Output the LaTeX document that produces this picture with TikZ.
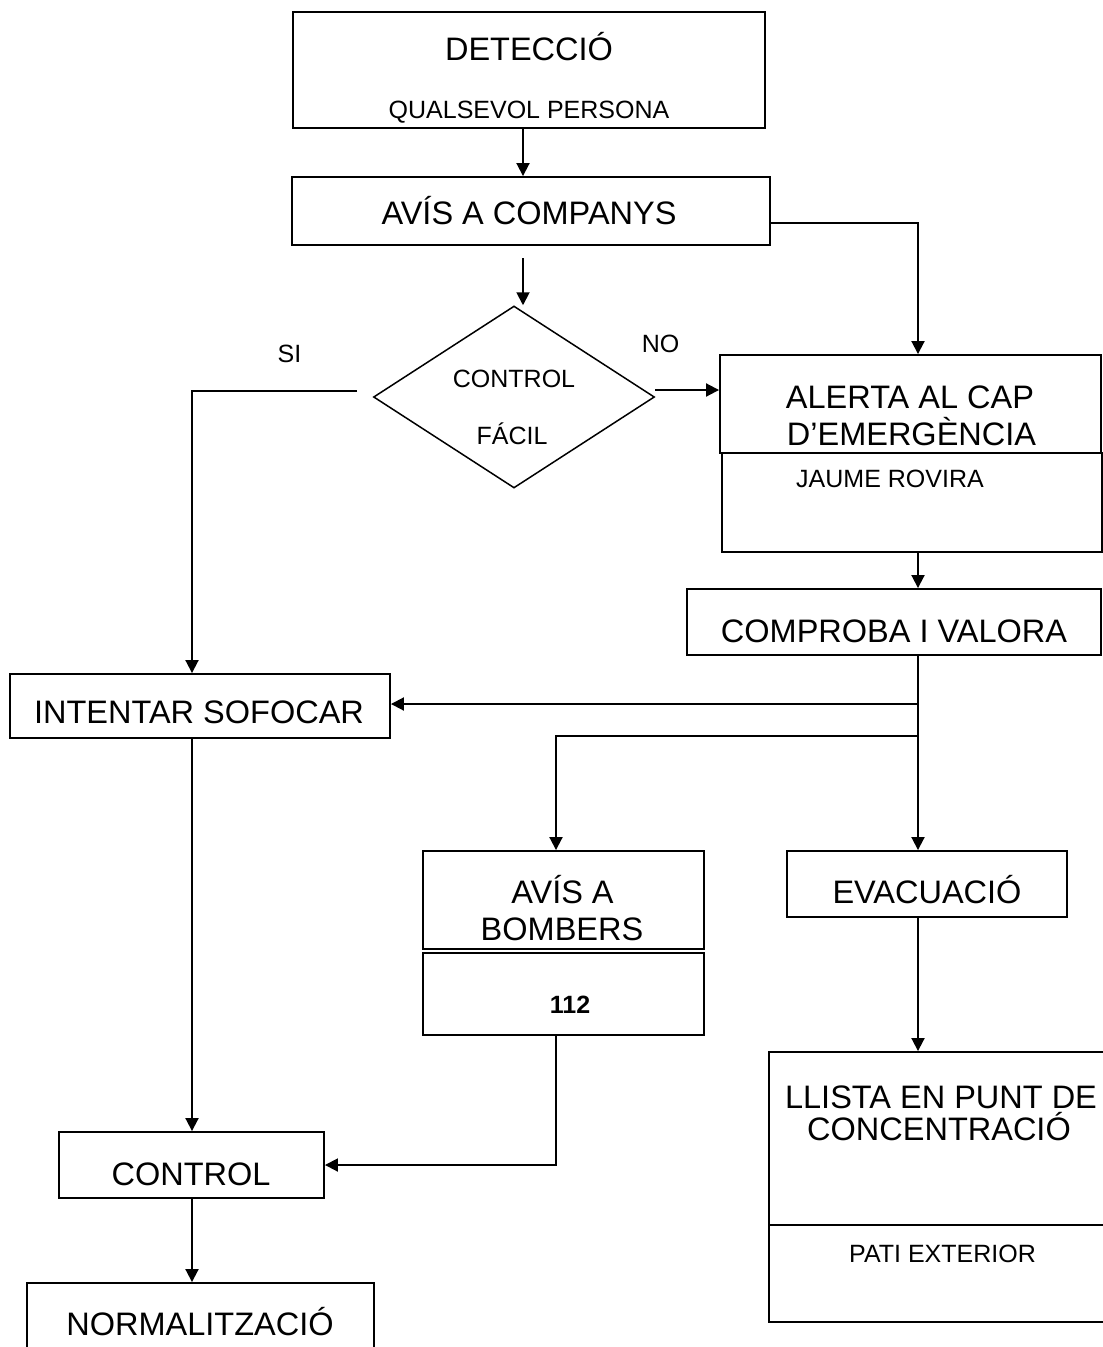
\documentclass[tikz,border=0pt]{standalone}
\usepackage{fontspec}
\setmainfont{Liberation Sans}
\usetikzlibrary{arrows.meta,shapes.geometric,calc}
\begin{document}
\begin{tikzpicture}[x=1pt,y=-1pt,
  box/.style={draw,line width=1.9pt,rectangle,inner sep=0pt},
  big/.style={anchor=base,inner sep=0pt,font=\fontsize{32.5}{36}\selectfont},
  small/.style={anchor=base,inner sep=0pt,font=\fontsize{25}{30}\selectfont},
  conn/.style={line width=1.9pt},
  arr/.style={conn,-{Triangle[length=13pt,width=13pt]}}]
\useasboundingbox (0,0) rectangle (1103,1347);
\clip (0,0) rectangle (1103,1347);
% column coordinates
\coordinate (cA) at (523,0);
\coordinate (cB) at (918,0);
\coordinate (cC) at (192,0);
\coordinate (cD) at (556,0);
% boxes
\node[box,minimum width=472pt,minimum height=116pt] (det) at (529,70) {};
\node[box,minimum width=478pt,minimum height=68pt] (avis) at (531,211) {};
\node[draw,line width=1.5pt,diamond,inner sep=0pt,minimum width=281pt,minimum height=182pt] (dia) at (514,397) {};
\node[box,minimum width=381pt,minimum height=98pt] (alerta) at (910.5,404) {};
\node[box,minimum width=380pt,minimum height=99pt] (jaume) at (912,502.5) {};
\node[box,minimum width=414pt,minimum height=66pt] (comp) at (894,622) {};
\node[box,minimum width=380pt,minimum height=64pt] (intentar) at (200,706) {};
\node[box,minimum width=281pt,minimum height=98pt] (bomb) at (563.5,900) {};
\node[box,minimum width=281pt,minimum height=82pt] (b112) at (563.5,994) {};
\node[box,minimum width=280pt,minimum height=66pt] (evac) at (927,884) {};
\node[box,minimum width=265pt,minimum height=66pt] (control) at (191.5,1165) {};
\node[box,minimum width=347pt,minimum height=140pt] (norm) at (200.5,1353) {};
\node[box,minimum width=360pt,minimum height=173pt] (llista) at (949,1138.5) {};
\node[box,minimum width=360pt,minimum height=97pt] (pati) at (949,1273.5) {};
% texts
\node[big] (tdet) at (529,60) {DETECCIÓ};
\node[small] (tqual) at (529,118) {QUALSEVOL PERSONA};
\node[big] (tavis) at (529,224) {AVÍS A COMPANYS};
\node[small] (tctrl) at (514,387) {CONTROL};
\node[small] (tfacil) at (512,444) {FÁCIL};
\node[small] (tsi) at (289.5,362) {SI};
\node[small] (tno) at (660.5,352) {NO};
\node[big] (tal1) at (910,408) {ALERTA AL CAP};
\node[big] (tal2) at (911.5,445) {D’EMERGÈNCIA};
\node[small] (tjau) at (890,487) {JAUME ROVIRA};
\node[big] (tcomp) at (894,642) {COMPROBA I VALORA};
\node[big] (tint) at (199,723) {INTENTAR SOFOCAR};
\node[big] (tb1) at (562.5,903) {AVÍS A};
\node[big] (tb2) at (562,940) {BOMBERS};
\node[small,font=\fontsize{25}{30}\selectfont\bfseries] (t112) at (570,1013) {112};
\node[big] (tevac) at (927,903) {EVACUACIÓ};
\node[big] (tcon) at (191,1185) {CONTROL};
\node[big] (tnorm) at (200,1335) {NORMALITZACIÓ};
\node[big] (tll1) at (941,1108) {LLISTA EN PUNT DE};
\node[big] (tll2) at (939,1140) {CONCENTRACIÓ};
\node[small] (tpati) at (942.5,1262) {PATI EXTERIOR};
% free coordinates
\coordinate (a3s) at (523,258);
\coordinate (siS) at (357,391);
\coordinate (noS) at (655,390);
\coordinate (j1) at (918,704);
\coordinate (j2) at (918,736);
\coordinate (avR) at (770,223);
% connectors
\draw[arr] (det.south -| cA) -- (avis.north -| cA);
\draw[arr] (avR) -| (alerta.north -| cB);
\draw[arr] (a3s) -- (dia.north -| cA);
\draw[arr] (siS) -| (intentar.north -| cC);
\draw[arr] (noS) -- (alerta.west |- noS);
\draw[arr] (jaume.south -| cB) -- (comp.north -| cB);
\draw[arr] (comp.south -| cB) -- (evac.north -| cB);
\draw[arr] (j1) -- (intentar.east |- j1);
\draw[arr] (j2) -| (bomb.north -| cD);
\draw[arr] (intentar.south -| cC) -- (control.north -| cC);
\draw[arr] (b112.south -| cD) |- (control.east);
\draw[arr] (control.south -| cC) -- (norm.north -| cC);
\draw[arr] (evac.south -| cB) -- (llista.north -| cB);
\end{tikzpicture}
\end{document}
